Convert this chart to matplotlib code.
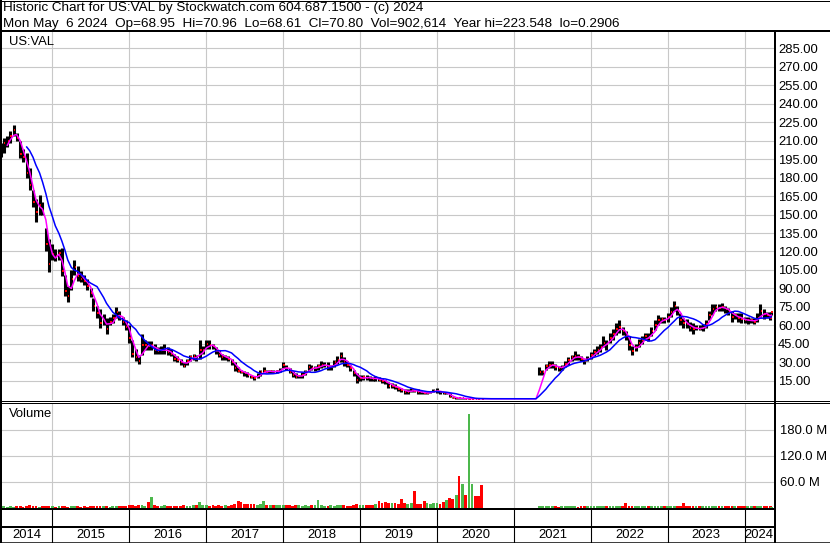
import numpy as np
import pandas as pd
import matplotlib
matplotlib.use('Agg')
import matplotlib.pyplot as plt
from matplotlib.lines import Line2D
from matplotlib.ticker import FuncFormatter

W, H = 830, 543
plt.rcParams['font.family'] = ['Liberation Sans', 'DejaVu Sans']

title_line1 = "Historic Chart for US:VAL by Stockwatch.com 604.687.1500 - (c) 2024"
title_line2 = ("Mon May  6 2024  Op=68.95  Hi=70.96  Lo=68.61  Cl=70.80  "
               "Vol=902,614  Year hi=223.548  lo=0.2906")
symbol = "US:VAL"

# ---- period 1: semi-monthly samples 2014-05-01 .. 2020-08-01 ----
p1_high = [208, 212, 214, 218, 223, 216, 210, 203, 200, 188,
           170, 163, 166, 160, 139, 130, 126, 122, 122, 123,
           101, 92, 105, 113, 108, 104, 101, 98, 90, 82,
           76, 73, 69, 66, 67, 69, 75, 72, 67, 64,
           60, 48, 41, 36, 53, 48, 47, 47, 45, 42,
           43, 45, 42, 41, 37, 35, 33, 30, 33, 36,
           37, 36, 48, 43, 48, 48, 45, 42, 40, 37,
           36, 35, 33, 30, 26, 24, 23, 22, 20, 19,
           21, 24, 26, 24, 24, 24, 24, 25, 30, 28,
           25, 23, 21, 20, 22, 24, 29, 28, 27, 29,
           31, 30, 30, 28, 32, 35, 38, 34, 31, 28,
           24, 21, 20, 20, 20, 19, 18, 19, 18, 17,
           16, 14, 13, 12, 10, 9, 8, 8, 9, 8,
           8, 7, 6, 6, 7, 8, 9, 7, 6, 6,
           5, 2, 1.5, 0.8, 0.7, 0.6, 0.6, 0.55, 0.5, 0.45, 0.45]
p1_low = [197, 200, 205, 208, 214, 210, 196, 193, 180, 170,
          156, 144, 150, 150, 120, 103, 113, 112, 113, 100,
          84, 79, 89, 101, 96, 95, 93, 89, 83, 72,
          66, 58, 60, 53, 60, 62, 66, 64, 60, 56,
          46, 34, 31, 29, 36, 40, 40, 40, 37, 37,
          37, 37, 36, 35, 31, 30, 28, 26, 28, 31,
          32, 31, 33, 37, 41, 41, 41, 37, 34, 32,
          32, 31, 28, 23, 22, 21, 19, 18, 17, 16,
          17, 19, 21, 21, 21, 21, 21, 22, 25, 24,
          21, 18, 17, 17, 17, 20, 23, 24, 23, 24,
          25, 26, 24, 24, 26, 29, 30, 27, 26, 23,
          19, 13, 15, 16, 16, 15, 15, 15, 15, 13,
          12, 9, 9, 8, 7, 6, 4, 4, 6, 6,
          4, 4, 4, 4, 5, 6, 5, 4, 4, 4,
          1.5, 1, 0.5, 0.4, 0.35, 0.3, 0.3, 0.3, 0.3, 0.3, 0.29]
p1_close = [201, 208, 210, 214, 219, 212, 199, 197, 184, 174,
            160, 152, 158, 153, 126, 110, 118, 116, 119, 104,
            88, 84, 98, 107, 100, 98, 96, 92, 86, 76,
            70, 62, 64, 57, 63, 66, 71, 67, 63, 59,
            50, 37, 34, 31, 44, 44, 43, 44, 40, 39,
            40, 41, 38, 37, 33, 32, 30, 27, 31, 34,
            35, 33, 40, 40, 45, 44, 43, 39, 36, 34,
            34, 33, 30, 25, 23, 22, 21, 20, 18, 17.5,
            19, 22, 23, 22, 23, 22, 23, 23, 28, 25,
            22, 20, 18, 18.5, 20, 22, 26, 25, 25, 27,
            28, 28, 26, 26, 30, 32, 35, 30, 28, 25,
            21, 16, 17, 18, 17.5, 17, 16.5, 17, 16, 15,
            14, 11, 11, 10, 8.5, 7.5, 6, 6, 7.5, 7,
            6, 5.5, 5, 5, 6, 7, 7, 5.5, 5, 5,
            2, 1.0, 1.1, 0.6, 0.65, 0.4, 0.44, 0.45, 0.38, 0.36, 0.35]
p1_vol_m = [2, 2.5, 2, 3, 2, 2.5, 3, 2, 3, 5,
            2.5, 3, 2, 2.5, 3, 3.5, 2.5, 2, 3, 2.5,
            3, 2, 3, 2.5, 3, 2, 3, 2, 2.5, 3,
            2.5, 3, 2.5, 3, 2, 3, 3.5, 2.5, 3, 4,
            5, 5, 4, 6, 5, 4, 13, 25, 5, 4,
            4, 5, 4, 3.5, 4, 3.5, 4, 5, 4, 4,
            5, 5, 13, 5, 5, 4, 5, 4, 5, 4,
            5, 4, 6, 8, 16, 12, 7, 8, 7, 9,
            6, 7, 15, 6, 5, 6, 5, 5, 6, 5,
            5, 4, 5, 5, 4, 5, 4, 5, 5, 17,
            5, 4, 4, 5, 4, 5, 6, 5, 4, 4,
            6, 8, 6, 6, 5, 6, 5, 8, 15, 11,
            12, 10, 11, 10, 9, 19, 10, 9, 10, 38,
            8, 9, 15, 10, 9, 10, 10, 8, 12, 17,
            23, 20, 28, 73, 55, 30, 215, 55, 27, 27, 52]

# ---- period 2: semi-monthly samples 2021-05-01 .. 2024-05-01, plus 2024-05-06 ----
p2_high = [26, 24, 29, 31, 31, 29, 27, 28, 31, 34,
           36, 39, 37, 35, 33, 35, 38, 41, 43, 45,
           51, 48, 54, 57, 62, 64, 59, 55, 51, 43,
           45, 49, 51, 54, 54, 59, 64, 68, 67, 67,
           70, 75, 80, 76, 70, 66, 65, 63, 62, 60,
           60, 61, 64, 72, 77, 77, 77, 78, 76, 74,
           72, 70, 70, 70, 67, 67, 66, 66, 70, 77,
           73, 71, 71, 70.96]
p2_low = [20, 20, 24, 25, 25, 24, 23, 24, 26, 28,
          31, 32, 32, 31, 29, 31, 33, 35, 37, 38,
          42, 40, 46, 48, 52, 54, 52, 48, 40, 36,
          39, 42, 45, 48, 47, 51, 56, 60, 62, 62,
          63, 67, 72, 68, 60, 58, 58, 55, 53, 56,
          56, 55, 58, 64, 68, 72, 72, 72, 70, 68,
          63, 65, 63, 62, 62, 61, 62, 61, 63, 67,
          65, 66, 64, 68.61]
p2_close = [22, 22, 27, 28, 28, 26, 25, 26, 29, 32,
            34, 35, 34, 33, 31, 33, 36, 38, 40, 42,
            46, 45, 50, 53, 57, 59, 55, 51, 44, 39,
            42, 46, 48, 51, 50, 55, 60, 64, 65, 64,
            67, 71, 76, 72, 64, 62, 61, 58, 57, 58,
            57, 58, 61, 68, 73, 75, 74, 75, 73, 71,
            67, 68, 66, 65, 64, 64, 64, 63, 66, 72,
            69, 68, 66, 70.80]
p2_vol_m = [4, 3, 3, 2.5, 3, 2.5, 2, 3, 2.5, 3,
            2.5, 3, 2, 2.5, 3, 2.5, 3, 2.5, 3, 3,
            3.5, 3, 3, 3.5, 3, 3, 3, 10, 4, 3.5,
            3, 3, 2.5, 3, 2.5, 3, 3, 3, 2.5, 3,
            3, 3.5, 3, 3, 3, 10, 3, 3, 2.5, 3,
            2.5, 3, 2.5, 3, 3, 2.5, 3, 2.5, 2.5, 3,
            3.5, 3, 2.5, 3, 2.5, 3, 3, 2.5, 3, 3,
            2.5, 3, 2.5, 0.9]

price_ticks = np.arange(15, 286, 15)
vol_ticks = [60, 120, 180]
years = list(range(2014, 2025))

# ---- dates ----
d1 = pd.date_range('2014-05-01', '2020-08-01', freq='SMS')
d2 = pd.date_range('2021-05-01', '2024-05-01', freq='SMS').append(pd.DatetimeIndex(['2024-05-06']))
dgap = pd.date_range('2020-08-15', '2021-04-15', freq='SMS')
dates = d1.append(d2)
high = np.array(p1_high + p2_high, float)
low = np.array(p1_low + p2_low, float)
close = np.array(p1_close + p2_close, float)
vol = np.array(p1_vol_m + p2_vol_m, float)

full_idx = dates.append(dgap).sort_values()
s = pd.Series(close, index=dates).reindex(full_idx).ffill()
ma_fast = s.rolling(3).mean()
ma_slow = s.rolling(9).mean()

up = np.r_[True, close[1:] >= close[:-1]]
vcolors = np.where(up, '#4cb84c', '#ff0000')

x_left = pd.Timestamp('2014-05-02')
x_right = pd.Timestamp('2024-05-19')
year_starts = pd.to_datetime([f'{y}-01-01' for y in years[1:]])

# ---- figure ----
fig = plt.figure(figsize=(W / 100, H / 100), dpi=100)
fig.patch.set_facecolor('white')


def rect(l, t, r, b):
    return [l / W, 1 - b / H, (r - l) / W, (b - t) / H]


def fline(x0, y0, x1, y1, lw=1.0, color='black'):
    fig.add_artist(Line2D([x0 / W, x1 / W], [1 - y0 / H, 1 - y1 / H],
                          transform=fig.transFigure, color=color,
                          lw=lw * 0.72, solid_capstyle='butt', zorder=10))


grid_kw = dict(color='#c8c8c8', lw=0.8)
FS = 9.4

# price panel
ax1 = fig.add_axes(rect(1, 32, 774, 400))
ax1.set_xlim(x_left, x_right)
ax1.set_ylim(-0.65, 298.3)
for sp in ax1.spines.values():
    sp.set_visible(False)
ax1.set_xticks(year_starts)
ax1.set_yticks(price_ticks)
ax1.grid(True, **grid_kw)
ax1.set_axisbelow(True)
ax1.tick_params(axis='x', length=0, labelbottom=False)
ax1.yaxis.tick_right()
ax1.tick_params(axis='y', length=0, pad=3.0, labelsize=FS, labelcolor='black')
ax1.yaxis.set_major_formatter(FuncFormatter(lambda v, _: f'{v:.2f}'))

ax1.vlines(dates, low, high, colors='black', lw=2.2, zorder=2)
ax1.hlines(close, dates + pd.Timedelta(days=1), dates + pd.Timedelta(days=8),
           colors='red', lw=1.4, zorder=2.5)
ax1.plot(full_idx, ma_fast.values, color='#ff00ff', lw=1.1, zorder=3)
ax1.plot(full_idx, ma_slow.values, color='#0000ff', lw=1.1, zorder=4)

# volume panel
ax2 = fig.add_axes(rect(1, 403, 774, 508.5))
ax2.set_xlim(x_left, x_right)
ax2.set_ylim(-60 * 1.0 / 26, 60 * 104.5 / 26)
for sp in ax2.spines.values():
    sp.set_visible(False)
ax2.set_xticks(year_starts)
ax2.set_yticks(vol_ticks)
ax2.grid(True, **grid_kw)
ax2.set_axisbelow(True)
ax2.tick_params(axis='x', length=0, labelbottom=False)
ax2.yaxis.tick_right()
ax2.tick_params(axis='y', length=0, pad=4.5, labelsize=FS, labelcolor='black')
ax2.yaxis.set_major_formatter(FuncFormatter(lambda v, _: f'{v:.1f} M'))
ax2.bar(dates, vol, width=13, color=vcolors, linewidth=0, zorder=2, bottom=0)

# date row
ax3 = fig.add_axes(rect(1, 509, 774, 543))
ax3.set_xlim(x_left, x_right)
ax3.set_ylim(0, 1)
ax3.axis('off')
ax3.vlines(year_starts, 0, 1, colors='black', lw=0.8)
bounds = [x_left] + list(year_starts) + [x_right]
for i, y in enumerate(years):
    mid = bounds[i] + (bounds[i + 1] - bounds[i]) / 2
    ax3.text(mid, (543 - 535) / 34, str(y), ha='center', va='center', fontsize=FS)

# text
fig.text(3 / W, 1 - 8 / H, title_line1, ha='left', va='center', fontsize=9.7)
fig.text(3 / W, 1 - 23.5 / H, title_line2, ha='left', va='center', fontsize=9.7)
fig.text(9 / W, 1 - 41.7 / H, symbol, ha='left', va='center', fontsize=FS, zorder=11)
fig.text(9 / W, 1 - 414 / H, 'Volume', ha='left', va='center', fontsize=FS, zorder=11)

# frame lines
fline(0, 0.5, W, 0.5, 1)
fline(0, 542.5, W, 542.5, 1.5)
fline(1, 0, 1, H, 2)
fline(829.5, 0, 829.5, H, 1)
fline(0, 30.8, W, 30.8, 2)
fline(775, 31, 775, H, 2)
fline(0, 401.0, W, 401.0, 1)
fline(0, 402.8, W, 402.8, 1)
fline(0, 509.2, 775, 509.2, 2)
fline(0, 527, 775, 527, 2)

fig.savefig('out.png', dpi=100, facecolor='white')
